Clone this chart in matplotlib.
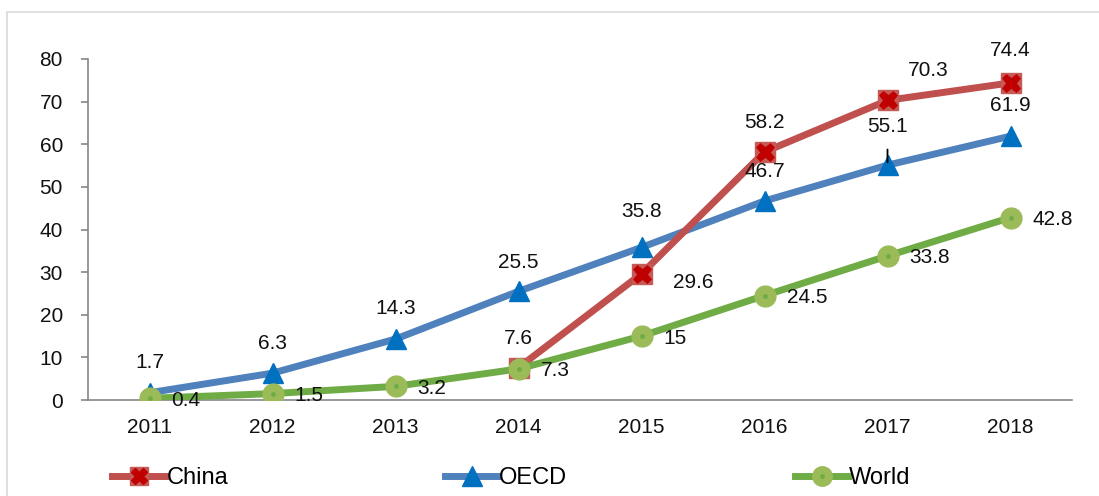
import matplotlib
matplotlib.use("Agg")
import matplotlib.pyplot as plt
from matplotlib.patches import Rectangle
from matplotlib.lines import Line2D

plt.rcParams['font.family'] = ['Liberation Sans', 'DejaVu Sans']

years = ['2011', '2012', '2013', '2014', '2015', '2016', '2017', '2018']
china = [None, None, None, 7.6, 29.6, 58.2, 70.3, 74.4]
oecd = [1.7, 6.3, 14.3, 25.5, 35.8, 46.7, 55.1, 61.9]
world = [0.4, 1.5, 3.2, 7.3, 15, 24.5, 33.8, 42.8]
yticks = [0, 10, 20, 30, 40, 50, 60, 70, 80]

PX = 0.72  # points per pixel at 100 dpi
TXT = '#111111'

fig = plt.figure(figsize=(10.99, 4.96), dpi=100)
fig.patches.append(Rectangle((7/1099, -0.05), 1.1, 1 - 12/496 + 0.05, transform=fig.transFigure,
                             fill=False, edgecolor='#D9D9D9', linewidth=1.2))
ax = fig.add_axes([88/1099, 1 - 400/496, (1072 - 88)/1099, (400 - 59)/496])

x = list(range(len(years)))
cx = [i for i, v in zip(x, china) if v is not None]
cy = [v for v in china if v is not None]

C_LINE, C_SQ, C_X = '#C0504D', '#C65A57', '#C00000'
O_LINE, O_MK = '#4F81BD', '#0070C0'
W_LINE, W_MK, W_DOT = '#6FAC46', '#9BBB59', '#6FAC46'

ax.plot(x, oecd, color=O_LINE, lw=5, marker='^', ms=15, mfc=O_MK, mec=O_MK, zorder=3)
ax.plot(cx, cy, color=C_LINE, lw=5, marker='s', ms=14, mfc=C_SQ, mec=C_SQ, mew=1, zorder=4)
ax.plot(cx, cy, lw=0, marker='X', ms=13, mfc=C_X, mec=C_X, mew=0.5, zorder=4.1)
ax.plot(x, world, color=W_LINE, lw=5, marker='o', ms=15, mfc=W_MK, mec=W_MK, zorder=5)
ax.plot(x, world, lw=0, marker='o', ms=2.5, mfc=W_DOT, mec=W_DOT, zorder=5.1)

fs = 15
# label centre offsets in pixels (dx right, dy up)
china_off = {3: (0, 29), 4: (52, -9), 5: (0, 29), 6: (41, 30), 7: (0, 32)}
for i, v in zip(cx, cy):
    dx, dy = china_off[i]
    ax.annotate(f'{v:g}', (i, v), xytext=(dx * PX, dy * PX), textcoords='offset points',
                ha='center', va='center', fontsize=fs, color=TXT, zorder=6)
oecd_off = {0: 30, 1: 30, 2: 31, 3: 29, 4: 36, 5: 29, 6: 39, 7: 31}
for i, v in enumerate(oecd):
    kw = {}
    if i == 6:
        kw['arrowprops'] = dict(arrowstyle='-', color='black', lw=1.3, shrinkA=8, shrinkB=2)
    ax.annotate(f'{v:g}', (i, v), xytext=(0, oecd_off[i] * PX), textcoords='offset points',
                ha='center', va='center', fontsize=fs, color=TXT, zorder=6, **kw)
for i, v in enumerate(world):
    ax.annotate(f'{v:g}', (i, v), xytext=(22 * PX, -2 * PX), textcoords='offset points',
                ha='left', va='center', fontsize=fs, color=TXT, zorder=6)

ax.set_xlim(-0.5, 7.5)
ax.set_ylim(0, 80)
ax.set_yticks(yticks)
ax.set_xticks(x)
ax.set_xticklabels(years)
ax.tick_params(axis='x', length=0, pad=13, labelsize=fs, colors=TXT)
ax.tick_params(axis='y', length=5, width=1.2, color='#868686', pad=13, labelsize=fs, labelcolor=TXT)
for s in ['top', 'right']:
    ax.spines[s].set_visible(False)
for s in ['left', 'bottom']:
    ax.spines[s].set_color('#868686')
    ax.spines[s].set_linewidth(1.2)

lfs = 17
legend_items = [
    ('China', 112, [Line2D([], [], color=C_LINE, lw=5, marker='s', ms=13, mfc=C_SQ, mec=C_SQ),
                    Line2D([], [], lw=0, marker='X', ms=12, mfc=C_X, mec=C_X)]),
    ('OECD', 445, [Line2D([], [], color=O_LINE, lw=5, marker='^', ms=14, mfc=O_MK, mec=O_MK)]),
    ('World', 795, [Line2D([], [], color=W_LINE, lw=5, marker='o', ms=14, mfc=W_MK, mec=W_MK),
                    Line2D([], [], lw=0, marker='o', ms=2.5, mfc=W_DOT, mec=W_DOT)]),
]
for label, xpx, hs in legend_items:
    fig.legend([tuple(hs)], [label], loc='center left', bbox_to_anchor=(xpx / 1099, 1 - 478 / 496),
               frameon=False, fontsize=lfs, handlelength=2.25, handletextpad=0.05,
               borderpad=0, borderaxespad=0)

fig.savefig('out.png', dpi=100)
